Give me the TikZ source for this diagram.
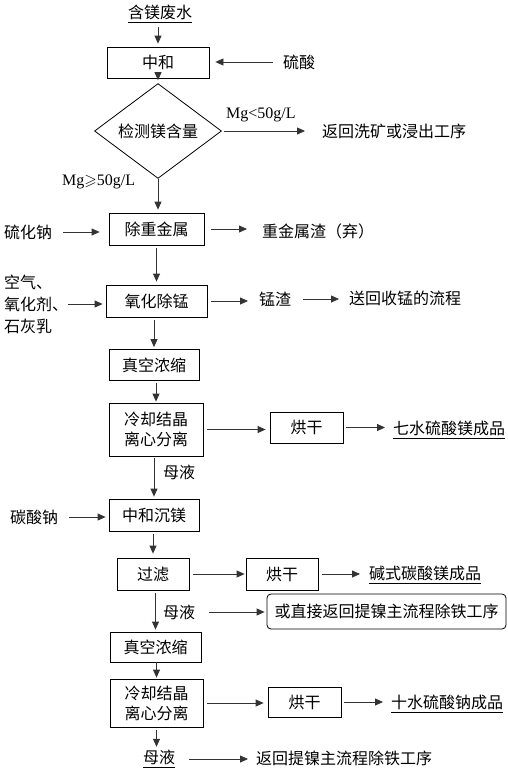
\documentclass[tikz,border=0pt]{standalone}
\usepackage{amssymb}
\usepackage{fontspec}
\setmainfont{Noto Sans CJK SC}
\newfontfamily\latinserif{Liberation Serif}
\usetikzlibrary{arrows.meta, shapes.geometric}
\tikzset{
  >={Triangle[length=8pt,width=7pt]},
  font=\fontsize{16}{20}\selectfont,
  stepbox/.style={
    draw=black, line width=0.8pt, inner sep=0pt, align=center,
    minimum height=32pt
  },
  txt/.style={inner sep=0pt, anchor=west},
  latin/.style={font=\fontsize{16}{20}\selectfont\latinserif},
  arr/.style={->, line width=0.8pt, draw=black!80}
}
\begin{document}
\begin{tikzpicture}[x=1pt, y=-1pt]
  \useasboundingbox (0,0) rectangle (508,771);
  % main line
  \node[txt, anchor=center] (fs) at (160,14) {\underline{含镁废水}};
  \node[stepbox, minimum width=102pt, minimum height=31pt] (zh) at (158,62.5) {中和};
  \node[shape=diamond, draw, line width=0.8pt, inner sep=0pt,
    minimum width=127pt, minimum height=56pt] (jc) at (158,131) {检测镁含量};
  \node[stepbox, minimum width=95pt] (cz) at (156.5,229) {除重金属};
  \node[stepbox, minimum width=101pt] (yh) at (156.5,301) {氧化除锰};
  \node[stepbox, minimum width=90pt, minimum height=31pt] (zk1) at (154,365) {真空浓缩};
  \node[stepbox, minimum width=94pt, minimum height=53pt] (lq1) at (156,429.5) {冷却结晶\\离心分离};
  \node[stepbox, minimum width=90pt] (cm) at (154,515) {中和沉镁};
  \node[stepbox, minimum width=72pt] (gl) at (153,574) {过滤};
  \node[stepbox, minimum width=91pt, minimum height=30pt] (zk2) at (155.5,647) {真空浓缩};
  \node[stepbox, minimum width=93pt, minimum height=48pt] (lq2) at (156.5,703) {冷却结晶\\离心分离};
  \node[txt] (my3) at (143,759) {\underline{母液}};
  % drying and return boxes
  \node[stepbox, minimum width=73pt, minimum height=31pt] (hg1) at (306.5,427.5) {烘干};
  \node[stepbox, minimum width=72pt] (hg2) at (282,574) {烘干};
  \node[stepbox, minimum width=73pt, minimum height=30pt] (hg3) at (304.5,702) {烘干};
  \node[stepbox, rounded corners=4pt, minimum width=239pt, minimum height=35pt] (fh)
    at (386.5,611.5) {或直接返回提镍主流程除铁工序};
  % side texts
  \node[txt] (ls) at (283,62) {硫酸};
  \node[txt, latin] (mgl) at (226,115) {Mg<50g/L};
  \node[txt] (fhx) at (322,131) {返回洗矿或浸出工序};
  \node[txt, latin] (mgg) at (62,182) {Mg$\geqslant$50g/L};
  \node[txt] (lhn) at (4,232) {硫化钠};
  \node[txt] (zjs) at (262,231) {重金属渣（弃）};
  \node[txt, align=left, font=\fontsize{16}{22}\selectfont] (kq) at (4,304) {空气、\\氧化剂、\\石灰乳};
  \node[txt] (mz) at (259,299) {锰渣};
  \node[txt] (shm) at (349,298) {送回收锰的流程};
  \node[txt] (qs) at (393,430) {\underline{七水硫酸镁成品}};
  \node[txt] (my1) at (163,472) {母液};
  \node[txt] (tsn) at (10,517) {碳酸钠};
  \node[txt] (js) at (369,575) {\underline{碱式碳酸镁成品}};
  \node[txt] (my2) at (163,612) {母液};
  \node[txt] (ss) at (391,704) {\underline{十水硫酸钠成品}};
  \node[txt] (fht) at (256,758) {返回提镍主流程除铁工序};
  % connectors
  \draw[arr, shorten <=4pt, shorten >=3pt] (fs.south -| zh.north) -- (zh.north);
  \draw[arr, shorten <=10pt, shorten >=6pt] (ls.west) -- (ls.west -| zh.east);
  \draw[arr, shorten <=2pt, shorten >=3pt] (zh) -- (jc);
  \draw[arr, shorten <=2pt, shorten >=17pt] (jc.east) -- (fhx.west);
  \draw[arr, shorten >=3pt] (jc.south) -- (jc.south |- cz.north);
  \draw[arr, shorten <=11pt, shorten >=9pt] (lhn.east) -- (lhn.east -| cz.west);
  \draw[arr, shorten <=7pt, shorten >=15pt] (cz.east) -- (cz.east -| zjs.west);
  \draw[arr, shorten <=3pt, shorten >=3pt] (cz) -- (yh);
  \draw[arr, shorten >=3pt] (kq.east) -- (kq.east -| yh.west);
  \draw[arr, shorten <=4pt, shorten >=11pt] (yh.east) -- (yh.east -| mz.west);
  \draw[arr, shorten <=12pt, shorten >=10pt] (mz.east) -- (mz.east -| shm.west);
  \draw[arr, shorten <=3pt, shorten >=2pt] (yh.south -| zk1.north) -- (zk1.north);
  \draw[arr, shorten <=2pt, shorten >=1pt] (zk1.south -| lq1.north) -- (lq1.north);
  \draw[arr, shorten <=4pt, shorten >=4pt] (lq1.east) -- (lq1.east -| hg1.west);
  \draw[arr, shorten <=3pt, shorten >=8pt] (hg1.east) -- (hg1.east -| qs.west);
  \draw[arr, shorten <=2pt, shorten >=2pt] (lq1.south -| cm.north) -- (cm.north);
  \draw[arr, shorten <=11pt, shorten >=3pt] (tsn.east) -- (tsn.east -| cm.west);
  \draw[arr, shorten <=3pt, shorten >=4pt] (cm.south -| gl.north) -- (gl.north);
  \draw[arr, shorten <=4pt, shorten >=1pt] (gl) -- (hg2);
  \draw[arr, shorten <=4pt, shorten >=9pt] (hg2.east) -- (hg2.east -| js.west);
  \draw[arr, shorten <=3pt, shorten >=2pt] (gl.south -| zk2.north) -- (zk2.north);
  \draw[arr, shorten <=14pt, shorten >=2pt] (my2.east) -- (my2.east -| fh.west);
  \draw[arr, shorten >=1pt] (zk2.south -| lq2.north) -- (lq2.north);
  \draw[arr, shorten <=4pt, shorten >=4pt] (lq2.east) -- (lq2.east -| hg3.west);
  \draw[arr, shorten <=3pt, shorten >=8pt] (hg3.east) -- (hg3.east -| ss.west);
  \draw[arr, shorten <=3pt, shorten >=3pt] (lq2.south) -- (lq2.south |- my3.north);
  \draw[arr, shorten <=14pt, shorten >=8pt] (my3.east) -- (my3.east -| fht.west);
\end{tikzpicture}
\end{document}
